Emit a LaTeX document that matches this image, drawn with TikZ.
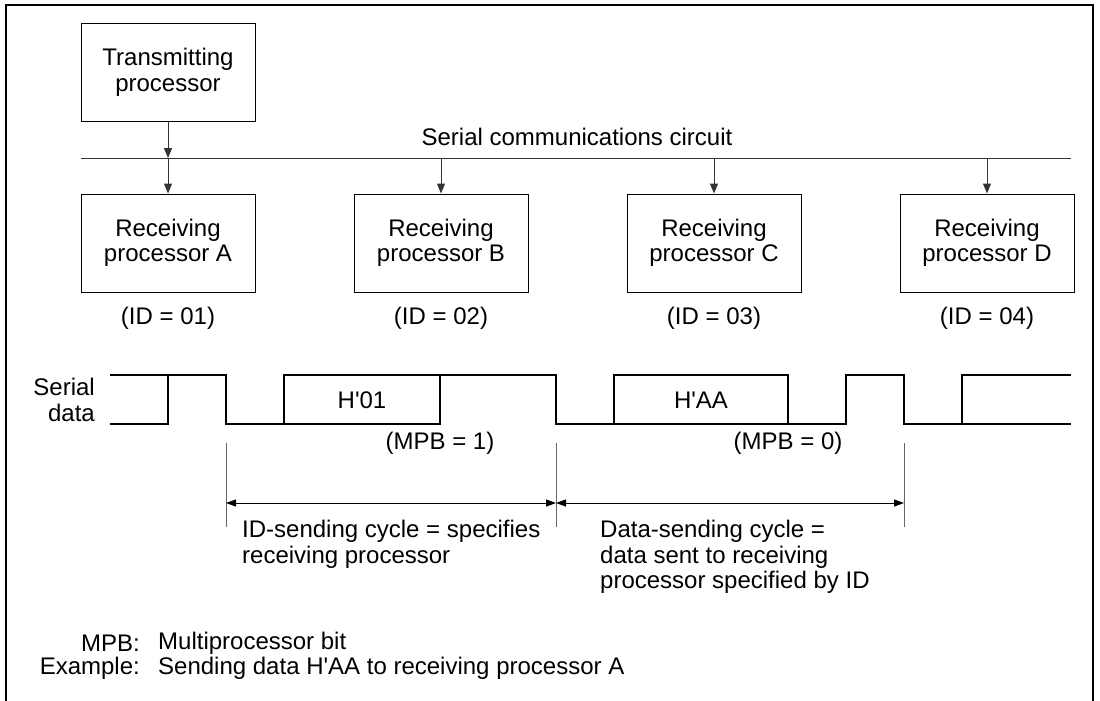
\documentclass[tikz,border=0pt]{standalone}
\usepackage{fontspec}
\setmainfont{Liberation Sans}
\usetikzlibrary{arrows.meta,positioning}
\definecolor{ln}{HTML}{333333}
\definecolor{ext}{HTML}{666666}
\tikzset{
  proc/.style={draw=black, line width=1pt, minimum width=174pt, minimum height=98pt, inner sep=0pt, align=center},
  feed/.style={-{Triangle[length=10pt,width=8pt]}, line width=1pt, ln},
  bus/.style={line width=1pt, ln},
  sig/.style={line width=1.2pt, black},
  extn/.style={line width=1pt, ext},
  dimline/.style={{Triangle[length=10pt,width=7pt]}-{Triangle[length=10pt,width=7pt]}, line width=1pt, black},
  lbl/.style={inner sep=0pt},
}

\begin{document}
\begin{tikzpicture}[x=1pt,y=-1pt,font=\fontsize{24}{25.5}\selectfont]
  \useasboundingbox (0,0) rectangle (1100,701);
  % frame
  \draw[line width=1.6pt] (6,701) -- (6,5) -- (1093,5) -- (1093,701);
  % transmitter and bus
  \node[proc] (tx) at (168,72.5) {Transmitting\\processor};
  \coordinate (busL) at (81,158);
  \coordinate (busR) at (1071,158);
  \draw[bus] (busL) -- (busR);
  \node[lbl] (buslbl) at (577,137) {Serial communications circuit};
  % receivers
  \node[proc] (rxA) at (168,243) {Receiving\\processor A};
  \node[proc, right=98pt of rxA] (rxB) {Receiving\\processor B};
  \node[proc, right=98pt of rxB] (rxC) {Receiving\\processor C};
  \node[proc, right=98pt of rxC] (rxD) {Receiving\\processor D};
  \node[lbl, below=14pt of rxA] (idA) {(ID = 01)};
  \node[lbl, below=14pt of rxB] (idB) {(ID = 02)};
  \node[lbl, below=14pt of rxC] (idC) {(ID = 03)};
  \node[lbl, below=14pt of rxD] (idD) {(ID = 04)};
  % taps on the bus
  \coordinate (tapT) at (tx |- busL);
  \coordinate (tapA) at (rxA |- busL);
  \coordinate (tapB) at (rxB |- busL);
  \coordinate (tapC) at (rxC |- busL);
  \coordinate (tapD) at (rxD |- busL);
  \draw[feed] (tx) -- (tapT);
  \draw[feed] (tapA) -- (rxA);
  \draw[feed] (tapB) -- (rxB);
  \draw[feed] (tapC) -- (rxC);
  \draw[feed] (tapD) -- (rxD);
  % serial data waveform
  \node[lbl, align=right, anchor=east] (serlbl) at (95,400) {Serial\\data};
  \draw[sig] (110,424) -- (168,424) -- (168,375);
  \draw[sig] (110,375) -- (226,375) -- (226,424) -- (440,424) -- (440,375);
  \draw[sig] (284,424) -- (284,375) -- (556,375) -- (556,424) -- (846,424) -- (846,375) -- (904,375) -- (904,424) -- (1071,424);
  \draw[sig] (614,424) -- (614,375) -- (788,375) -- (788,424);
  \draw[sig] (962,424) -- (962,375) -- (1071,375);
  \node[lbl] (d01) at (362,400) {H\textquotesingle 01};
  \node[lbl] (dAA) at (701,400) {H\textquotesingle AA};
  \node[lbl] (mpb1) at (440,443) {(MPB = 1)};
  \node[lbl] (mpb0) at (788,443) {(MPB = 0)};
  % cycles
  \coordinate (e1t) at (226,443); \coordinate (e1b) at (226,527);
  \coordinate (e2t) at (556,443); \coordinate (e2b) at (556,527);
  \coordinate (e3t) at (904,443); \coordinate (e3b) at (904,527);
  \draw[extn] (e1t) -- (e1b);
  \draw[extn] (e2t) -- (e2b);
  \draw[extn] (e3t) -- (e3b);
  \coordinate (a1) at (226,503);
  \coordinate (a2) at (556,503);
  \coordinate (a3) at (904,503);
  \draw[dimline] (a1) -- (a2);
  \draw[dimline] (a2) -- (a3);
  \node[lbl, align=left, anchor=west] (idcyc) at (242,544.5) {ID-sending cycle = specifies\\receiving processor};
  \node[lbl, align=left, anchor=west] (datcyc) at (600,557) {Data-sending cycle =\\data sent to receiving\\processor specified by ID};
  % notes
  \node[lbl, anchor=east] (kMPB) at (140,643) {MPB:};
  \node[lbl, right=18pt of kMPB] (vMPB) {Multiprocessor bit};
  \node[lbl, anchor=east] (kEx) at (140,668) {Example:};
  \node[lbl, right=18pt of kEx] (vEx) {Sending data H\textquotesingle AA to receiving processor A};
\end{tikzpicture}
\end{document}
